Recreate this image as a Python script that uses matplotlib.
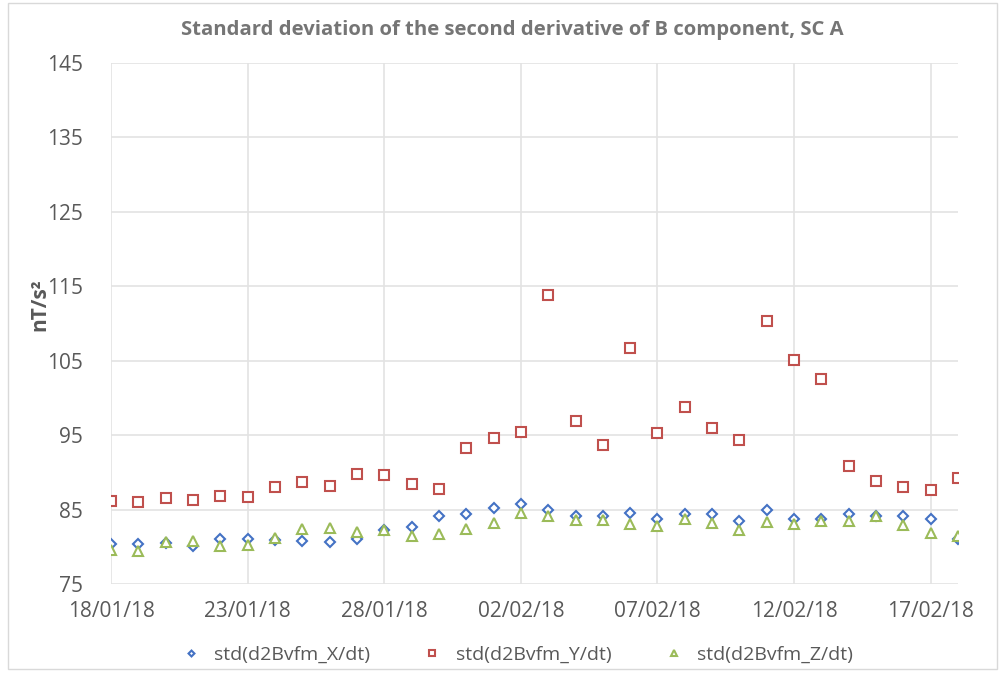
import numpy as np
import matplotlib
matplotlib.use('Agg')
import matplotlib.pyplot as plt
import matplotlib.dates as mdates
from matplotlib.patches import Rectangle
import datetime as dt

plt.rcParams['font.family'] = ['Open Sans', 'DejaVu Sans']

# daily values, 18/01/18 .. 18/02/18
start = dt.date(2018, 1, 18)
days = [start + dt.timedelta(days=i) for i in range(32)]

std_x = [80.4, 80.4, 80.5, 80.1, 81.0, 81.1, 80.9, 80.8, 80.7, 81.0, 82.2, 82.7,
         84.2, 84.4, 85.2, 85.7, 84.9, 84.1, 84.1, 84.5, 83.8, 84.4, 84.4, 83.5,
         84.9, 83.8, 83.7, 84.4, 84.1, 84.1, 83.8, 81.1]
std_y = [86.1, 86.0, 86.6, 86.3, 86.8, 86.7, 88.1, 88.7, 88.2, 89.8, 89.7, 88.4,
         87.7, 93.3, 94.6, 95.4, 113.8, 96.9, 93.7, 106.7, 95.3, 98.8, 95.9, 94.3,
         110.3, 105.1, 102.6, 90.9, 88.9, 88.1, 87.6, 89.2]
std_z = [79.6, 79.5, 80.6, 80.8, 80.1, 80.2, 81.2, 82.4, 82.5, 82.0, 82.2, 81.5,
         81.7, 82.4, 83.2, 84.5, 84.2, 83.6, 83.6, 83.1, 82.8, 83.7, 83.2, 82.3,
         83.4, 83.1, 83.5, 83.5, 84.1, 82.9, 81.9, 81.5]

labels = ['std(d2Bvfm_X/dt)', 'std(d2Bvfm_Y/dt)', 'std(d2Bvfm_Z/dt)']
colors = ['#4472C4', '#C0504D', '#9BBB59']
markers = ['D', 's', '^']
sizes = [5, 6.5, 6.5]

fig = plt.figure(figsize=(10.04, 6.73), dpi=100)
ax = fig.add_axes([0.1106, 0.1322, 0.8436, 0.7742])

for vals, lab, c, m, s in zip([std_x, std_y, std_z], labels, colors, markers, sizes):
    ax.plot(days, vals, linestyle='none', marker=m, markersize=s,
            markerfacecolor='white', markeredgecolor=c, markeredgewidth=1.5,
            label=lab)

ax.set_xlim(mdates.date2num(dt.date(2018, 1, 18)), mdates.date2num(dt.date(2018, 2, 18)))
ax.set_ylim(75, 145)
ax.set_yticks(np.arange(75, 146, 10))
ax.set_xticks([mdates.date2num(start + dt.timedelta(days=5 * i)) for i in range(7)])
ax.xaxis.set_major_formatter(mdates.DateFormatter('%d/%m/%y'))

ax.grid(True, color='#E3E3E3', linewidth=1.2)
ax.set_axisbelow(True)
for sp in ax.spines.values():
    sp.set_visible(False)
ax.tick_params(length=0, labelsize=15, colors='#595959', pad=12)
ax.tick_params(axis='y', pad=20)

fig.text(0.040, 0.547, 'nT/s²', rotation=90, ha='center', va='center',
         fontsize=15, fontweight='bold', color='#595959')
fig.text(0.51, 0.955, 'Standard deviation of the second derivative of B component, SC A',
         ha='center', va='center', fontsize=14.6, fontweight='bold', color='#757575')

leg = fig.legend(loc='center', bbox_to_anchor=(0.51, 0.027), ncol=3, frameon=False,
                 fontsize=14, markerscale=0.6, handletextpad=0.2, columnspacing=2.2)
for t in leg.get_texts():
    t.set_color('#595959')

fig.patches.append(Rectangle((0.008, 0.006), 0.985, 0.99, transform=fig.transFigure,
                             fill=False, edgecolor='#D9D9D9', linewidth=1))

fig.savefig('out.png', dpi=100)
